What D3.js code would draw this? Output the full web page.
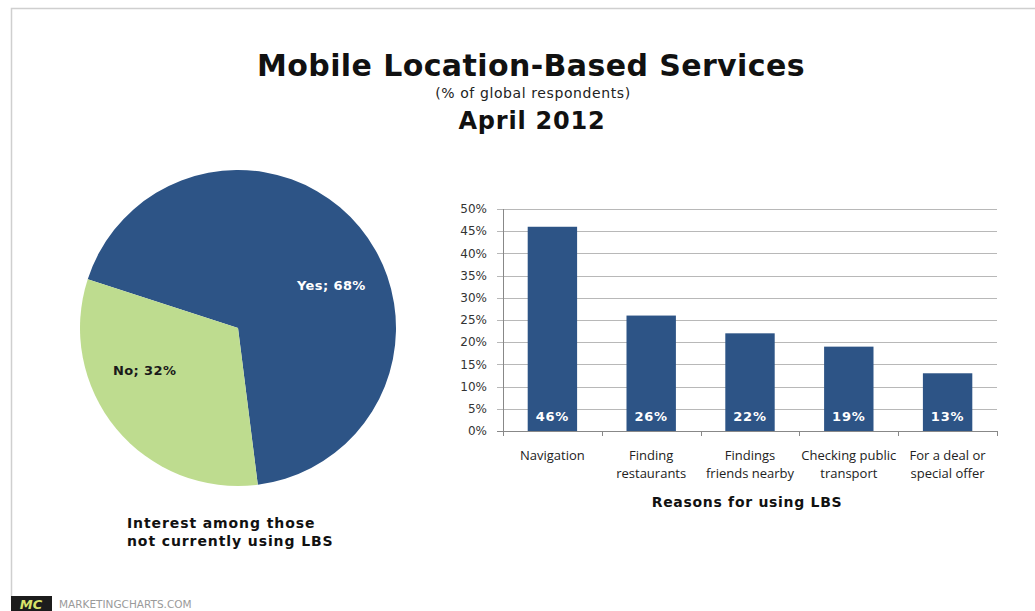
<!DOCTYPE html>
<html>
<head>
<meta charset="utf-8">
<script src="https://cdn.jsdelivr.net/npm/d3@7"></script>
<style>
  html, body { margin: 0; padding: 0; background: #fff; }
  svg { display: block; }
</style>
</head>
<body>
<svg id="chart" width="1035" height="611"></svg>
<script>
// Pie: interest among non-users
const pieLabels = ["Yes", "No"];
const pieValues = [68, 32];

// Bars: reasons for using LBS
const categories = [
  ["Navigation"],
  ["Finding", "restaurants"],
  ["Findings", "friends nearby"],
  ["Checking public", "transport"],
  ["For a deal or", "special offer"]
];
const barValues = [46, 26, 22, 19, 13];
const yTicks = [0, 5, 10, 15, 20, 25, 30, 35, 40, 45, 50];

const navy = "#2d5486";
const green = "#bedc8f";
const sans = "DejaVu Sans, Verdana, sans-serif";
const svg = d3.select("#chart");

// frame
svg.append("path")
  .attr("d", "M11.5,600 V8.5 H1035")
  .attr("fill", "none").attr("stroke", "#cfcfcf").attr("stroke-width", 1.5);

// titles
svg.append("text").attr("x", 531).attr("y", 76).attr("text-anchor", "middle")
  .attr("font-family", sans).attr("font-weight", "bold")
  .attr("font-size", 30).attr("letter-spacing", 0.4).attr("fill", "#111")
  .text("Mobile Location-Based Services");
svg.append("text").attr("x", 533).attr("y", 98).attr("text-anchor", "middle")
  .attr("font-family", sans)
  .attr("font-size", 14).attr("letter-spacing", 0.6).attr("fill", "#222")
  .text("(% of global respondents)");
svg.append("text").attr("x", 532).attr("y", 129).attr("text-anchor", "middle")
  .attr("font-family", sans).attr("font-weight", "bold")
  .attr("font-size", 24).attr("letter-spacing", 0.8).attr("fill", "#111")
  .text("April 2012");

// ---- pie ----
const cx = 238, cy = 328, r = 158;
const pie = d3.pie().sort(null)
  .startAngle(-0.4 * Math.PI)
  .endAngle(1.6 * Math.PI);
const arc = d3.arc().innerRadius(0).outerRadius(r);
const pieData = pie(pieValues).map((a, i) => Object.assign(a, { label: pieLabels[i] }));
const pg = svg.append("g").attr("transform", `translate(${cx},${cy})`);
pg.selectAll("path").data(pieData).enter().append("path")
  .attr("d", arc)
  .attr("fill", (d, i) => i === 0 ? navy : green);

// slice labels sit a little clockwise of each slice's middle
const labelR = r * 0.65, labelShift = 15 * Math.PI / 180;
pg.selectAll("text.pl").data(pieData).enter().append("text")
  .attr("class", "pl")
  .attr("transform", d => {
    const a = (d.startAngle + d.endAngle) / 2 + labelShift;
    return `translate(${labelR * Math.sin(a)},${-labelR * Math.cos(a)})`;
  })
  .attr("text-anchor", "middle").attr("dy", "0.35em")
  .attr("font-family", sans).attr("font-weight", "bold")
  .attr("font-size", 13).attr("letter-spacing", 0.4)
  .attr("fill", (d, i) => i === 0 ? "#fff" : "#1a1a1a")
  .text(d => `${d.label}; ${d.value}%`);

const cap = svg.append("text")
  .attr("font-family", sans).attr("font-weight", "bold")
  .attr("font-size", 14).attr("letter-spacing", 0.9).attr("fill", "#111");
cap.append("tspan").attr("x", 127).attr("y", 528).text("Interest among those");
cap.append("tspan").attr("x", 127).attr("y", 546).text("not currently using LBS");

// ---- bars ----
const x = d3.scaleBand().domain(d3.range(categories.length))
  .range([503, 997]).paddingInner(0.5).paddingOuter(0.25);
const y = d3.scaleLinear().domain([0, 50]).range([431, 209]);

const grid = svg.append("g");
grid.selectAll("line").data(yTicks).enter().append("line")
  .attr("x1", 497).attr("x2", 997)
  .attr("y1", d => Math.round(y(d)) + 0.5).attr("y2", d => Math.round(y(d)) + 0.5)
  .attr("stroke", "#b8b8b8").attr("stroke-width", 1);

svg.append("g").selectAll("text").data(yTicks).enter().append("text")
  .attr("x", 487).attr("y", d => y(d)).attr("dy", "0.35em")
  .attr("text-anchor", "end")
  .attr("font-family", sans)
  .attr("font-size", 12).attr("fill", "#333")
  .text(d => d + "%");

svg.append("g").selectAll("rect").data(barValues).enter().append("rect")
  .attr("x", (d, i) => x(i)).attr("width", x.bandwidth())
  .attr("y", d => y(d)).attr("height", d => y(0) - y(d))
  .attr("fill", navy);

// axis lines and category ticks
svg.append("line").attr("x1", 503.5).attr("x2", 503.5).attr("y1", 209).attr("y2", 431)
  .attr("stroke", "#888");
svg.append("line").attr("x1", 497).attr("x2", 997).attr("y1", 431.5).attr("y2", 431.5)
  .attr("stroke", "#888");
const step = x.step();
svg.append("g").selectAll("line").data(d3.range(categories.length + 1)).enter().append("line")
  .attr("x1", i => Math.round(503 + i * step) + 0.5).attr("x2", i => Math.round(503 + i * step) + 0.5)
  .attr("y1", 431).attr("y2", 436).attr("stroke", "#888");

// value labels inside bars
svg.append("g").selectAll("text").data(barValues).enter().append("text")
  .attr("x", (d, i) => x(i) + x.bandwidth() / 2).attr("y", 416).attr("dy", "0.35em")
  .attr("text-anchor", "middle")
  .attr("font-family", sans).attr("font-weight", "bold")
  .attr("font-size", 13).attr("letter-spacing", 0.8).attr("fill", "#fff")
  .text(d => d + "%");

// category labels
const cl = svg.append("g").selectAll("text").data(categories).enter().append("text")
  .attr("text-anchor", "middle")
  .attr("font-family", "Open Sans, Liberation Sans, sans-serif")
  .attr("font-size", 13).attr("fill", "#222");
cl.each(function (lines, i) {
  const t = d3.select(this);
  lines.forEach((ln, j) => {
    t.append("tspan").attr("x", x(i) + x.bandwidth() / 2).attr("y", 460 + j * 18).text(ln);
  });
});

svg.append("text").attr("x", 747).attr("y", 507).attr("text-anchor", "middle")
  .attr("font-family", sans).attr("font-weight", "bold")
  .attr("font-size", 14).attr("letter-spacing", 0.7).attr("fill", "#111")
  .text("Reasons for using LBS");

// footer logo
svg.append("rect").attr("x", 11).attr("y", 596).attr("width", 41).attr("height", 15).attr("fill", "#1c1c1c");
svg.append("text").attr("x", 31).attr("y", 609).attr("text-anchor", "middle")
  .attr("font-family", sans).attr("font-weight", "bold").attr("font-style", "italic")
  .attr("font-size", 13).attr("fill", "#d9e36a").text("MC");
svg.append("text").attr("x", 59).attr("y", 608)
  .attr("font-family", sans)
  .attr("font-size", 10.5).attr("fill", "#9a9a9a").text("MARKETINGCHARTS.COM");
</script>
</body>
</html>
